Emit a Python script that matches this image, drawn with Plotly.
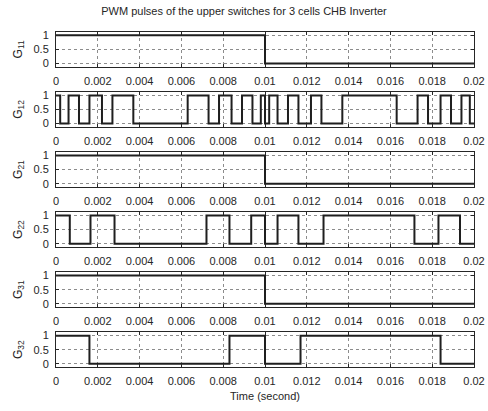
import plotly.graph_objects as go

# ---------------- data ----------------
title_text = "PWM pulses of the upper switches for 3 cells CHB Inverter"
x_label = "Time (second)"
series_names = ["G<sub>11</sub>", "G<sub>12</sub>", "G<sub>21</sub>", "G<sub>22</sub>", "G<sub>31</sub>", "G<sub>32</sub>"]
x_tick_vals = [0, 0.002, 0.004, 0.006, 0.008, 0.01, 0.012, 0.014, 0.016, 0.018, 0.02]
x_tick_text = ["0", "0.002", "0.004", "0.006", "0.008", "0.01", "0.012", "0.014", "0.016", "0.018", "0.02"]
y_tick_vals = [0, 0.5, 1]
y_tick_text = ["0", "0.5", "1"]

# switching instants (s) and the state held from each instant
G11_t = [0, 0.01, 0.02]
G11_v = [1, 0, 0]
G12_t = [0, 0.0002, 0.0006, 0.0011, 0.0016, 0.0022, 0.0027, 0.0037, 0.0063, 0.0073, 0.0078, 0.0084,
         0.0089, 0.0094, 0.0098, 0.01, 0.0102, 0.0106, 0.0111, 0.0116, 0.0122, 0.0127, 0.0137,
         0.0163, 0.0173, 0.0178, 0.0184, 0.0189, 0.0194, 0.0198, 0.02]
G12_v = [1, 0, 1, 0, 1, 0, 1, 0, 1, 0, 1, 0,
         1, 0, 1, 0, 1, 0, 1, 0, 1, 0, 1,
         0, 1, 0, 1, 0, 1, 0, 0]
G21_t = [0, 0.01, 0.02]
G21_v = [1, 0, 0]
G22_t = [0, 0.00066, 0.00165, 0.0028, 0.0072, 0.0083, 0.00934, 0.01, 0.0106, 0.0116, 0.0128,
         0.01715, 0.0183, 0.01933, 0.02]
G22_v = [1, 0, 1, 0, 1, 0, 1, 0, 1, 0, 1,
         0, 1, 0, 0]
G31_t = [0, 0.01, 0.02]
G31_v = [1, 0, 0]
G32_t = [0, 0.0016, 0.0083, 0.01, 0.0117, 0.0184, 0.02]
G32_v = [1, 0, 1, 0, 1, 0, 0]

series_t = [G11_t, G12_t, G21_t, G22_t, G31_t, G32_t]
series_v = [G11_v, G12_v, G21_v, G22_v, G31_v, G32_v]

# ---------------- layout ----------------
W, H = 488, 411
row_top0 = 29.3
row_h = 35.4
row_step = 60.8

fig = go.Figure()
font_family = "Liberation Sans, Arial, sans-serif"
txt_col = "#262626"

for i in range(6):
    ax = "" if i == 0 else str(i + 1)
    top = row_top0 + i * row_step
    bot = top + row_h
    fig.add_trace(go.Scatter(
        x=series_t[i], y=series_v[i], mode="lines", line=dict(color="#1f1f1f", width=2, shape="hv"),
        xaxis="x" + ax, yaxis="y" + ax, showlegend=False, hoverinfo="skip"))
    xa = dict(domain=[0, 1], range=[0, 0.02], tickvals=x_tick_vals, ticktext=x_tick_text,
              showgrid=True, gridcolor="#8c8c8c", griddash="dot", gridwidth=1,
              showline=True, linecolor="#262626", linewidth=1, mirror="ticks",
              ticks="inside", ticklen=3, tickcolor="#262626", zeroline=False,
              ticklabelstandoff=4,
              tickfont=dict(size=11, color=txt_col, family=font_family), anchor="y" + ax)
    ya = dict(domain=[1 - bot / H, 1 - top / H], range=[-0.12, 1.12], tickvals=y_tick_vals, ticktext=y_tick_text,
              showgrid=True, gridcolor="#8c8c8c", griddash="dot", gridwidth=1,
              showline=True, linecolor="#262626", linewidth=1, mirror="ticks",
              ticks="inside", ticklen=3, tickcolor="#262626", zeroline=False,
              ticklabelstandoff=4,
              tickfont=dict(size=11, color=txt_col, family=font_family), anchor="x" + ax,
              title=dict(text=series_names[i], font=dict(size=12, color=txt_col, family=font_family), standoff=8))
    if i == 5:
        xa["title"] = dict(text=x_label, font=dict(size=11, color=txt_col, family=font_family), standoff=5)
    fig.update_layout(**{"xaxis" + ax: xa, "yaxis" + ax: ya})

fig.update_layout(
    width=W, height=H,
    margin=dict(l=56, r=14, t=0, b=0),
    paper_bgcolor="white", plot_bgcolor="white",
    title=dict(text=title_text, x=0.5, xanchor="center", y=1 - 11 / H, yanchor="middle",
               font=dict(size=11, color=txt_col, family=font_family)),
)

fig.write_html("out.html")
